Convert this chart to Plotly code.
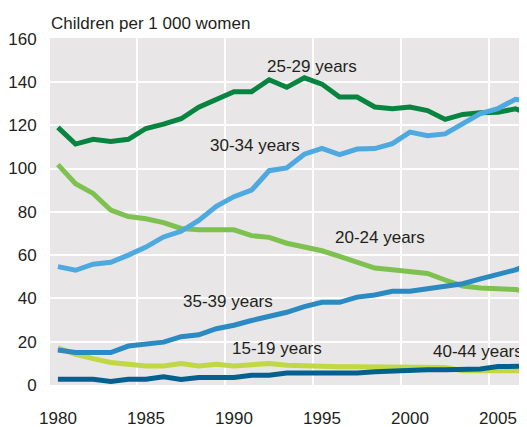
import plotly.graph_objects as go

years = list(range(1980, 2008))

age_15_19 = [17.2, 14.2, 12.2, 10.4, 9.6, 8.8, 8.8, 9.9, 8.8, 9.6, 8.8, 9.1, 9.9, 9.1, 8.8, 8.4, 8.4, 8.4, 8.4, 8.4, 8.4, 8.4, 8.1, 6.6, 6.5, 6.5, 6.6, 6.6]
age_20_24 = [101.8, 93, 88.5, 80.8, 77.8, 76.8, 75, 72.3, 71.7, 71.7, 71.7, 69, 68.2, 65.5, 63.8, 62, 59.4, 56.5, 54, 53.2, 52.4, 51.5, 48.5, 45.7, 44.8, 44.3, 44.1, 42.7]
age_25_29 = [119, 111.3, 113.5, 112.5, 113.5, 118.5, 120.5, 123, 128.3, 131.7, 135.5, 135.5, 141, 137.5, 141.9, 139, 133, 133, 128.4, 127.6, 128.4, 126.8, 122.7, 125, 125.8, 126, 127.6, 124.5]
age_30_34 = [54.7, 53, 55.8, 56.7, 60, 63.7, 68.4, 71, 76, 82.5, 87, 90, 99, 100.3, 106.6, 109.3, 106.4, 109, 109.2, 111.5, 116.8, 115.2, 116, 120.6, 125.4, 127.7, 132, 131]
age_35_39 = [16.2, 15, 15, 15, 18, 18.8, 19.8, 22.3, 23.2, 26, 27.6, 29.8, 31.5, 33.6, 36.2, 38.2, 38.2, 40.6, 41.6, 43.3, 43.3, 44.6, 45.8, 46.8, 49, 51.2, 53.2, 56.5]
age_40_44 = [2.7, 2.7, 2.7, 1.6, 2.7, 2.7, 3.8, 2.5, 3.5, 3.5, 3.5, 4.5, 4.5, 5.5, 5.5, 5.5, 5.5, 5.5, 6.1, 6.5, 7, 7, 7, 7.2, 7.4, 8.5, 8.8, 8.8]

series_names = ["20-24 years", "25-29 years", "15-19 years", "30-34 years", "35-39 years", "40-44 years"]
series_values = [age_20_24, age_25_29, age_15_19, age_30_34, age_35_39, age_40_44]
series_colors = ["#7dc24f", "#078440", "#c0d843", "#4da9e0", "#2b8ac2", "#03618f"]

x_tick_vals = [1980, 1985, 1990, 1995, 2000, 2005]
x_tick_text = ["1980", "1985", "1990", "1995", "2000", "2005"]
x_grid_vals = [1984.5, 1989.5, 1994.5, 1999.5, 2004.5]
y_tick_vals = [0, 20, 40, 60, 80, 100, 120, 140, 160]

label_pos = {
    "25-29 years": (1994.46, 147.0),
    "30-34 years": (1991.22, 110.6),
    "20-24 years": (1998.27, 68.1),
    "35-39 years": (1989.69, 38.5),
    "15-19 years": (1992.47, 16.9),
    "40-44 years": (2003.85, 15.5),
}

FONT = "Liberation Sans, Arial, sans-serif"
TXT = "#231f20"

fig = go.Figure()
for name, vals, col in zip(series_names, series_values, series_colors):
    fig.add_trace(go.Scatter(x=years, y=vals, mode="lines", name=name,
                             line=dict(color=col, width=5), showlegend=False))

for name in series_names:
    lx, ly = label_pos[name]
    fig.add_annotation(x=lx, y=ly, xref="x", yref="y", text=name, showarrow=False,
                       font=dict(family=FONT, size=17, color=TXT),
                       xanchor="center", yanchor="middle")

W, H = 519, 419
fig.update_layout(
    width=W, height=H,
    margin=dict(l=42, r=0, t=30, b=41.5, pad=0, autoexpand=False),
    paper_bgcolor="white",
    plot_bgcolor="#e8e6e7",
    font=dict(family=FONT, size=17, color=TXT),
    title=dict(text="Children per 1 000 women", x=43 / W, xanchor="left",
               y=1 - 15 / H, yanchor="middle",
               font=dict(family=FONT, size=17, color=TXT)),
)
fig.update_xaxes(range=[1979.55, 2006.65], tickvals=x_tick_vals, ticktext=x_tick_text,
                 showgrid=False, zeroline=False, showline=False, automargin=False,
                 ticks="outside", ticklen=18, tickcolor="rgba(0,0,0,0)",
                 tickfont=dict(family=FONT, size=17, color=TXT),
                 minor=dict(tickvals=x_grid_vals, showgrid=True, gridcolor="white", gridwidth=2, ticks=""))
fig.update_yaxes(range=[0, 160.3], tickvals=y_tick_vals, automargin=False,
                 showgrid=True, gridcolor="white", gridwidth=2, zeroline=False, showline=False,
                 ticks="outside", ticklen=9, tickcolor="rgba(0,0,0,0)",
                 tickfont=dict(family=FONT, size=17, color=TXT))

fig.write_html("out.html")
